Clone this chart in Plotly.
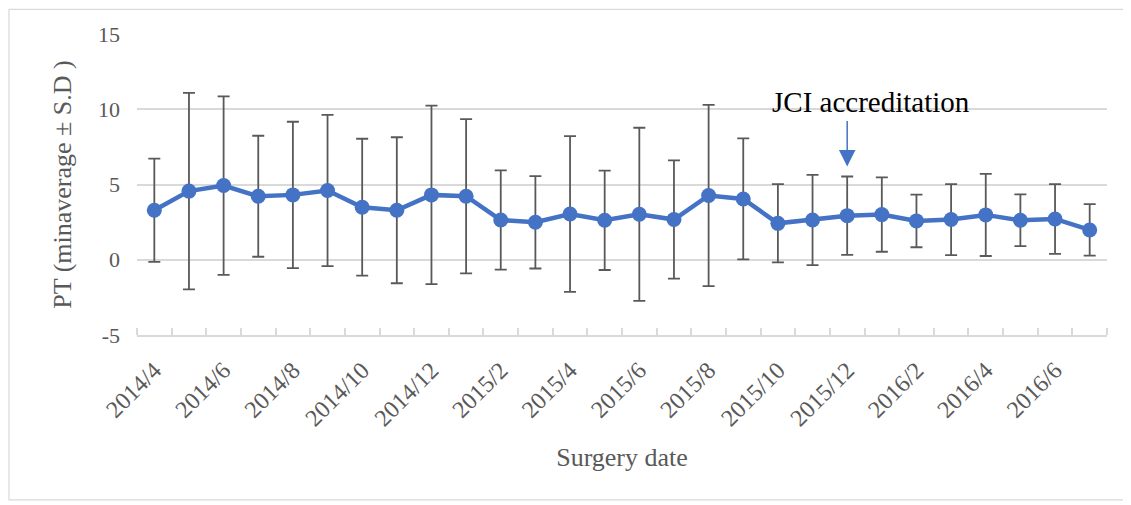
import plotly.graph_objects as go

months = ["2014/4", "2014/5", "2014/6", "2014/7", "2014/8", "2014/9", "2014/10", "2014/11",
          "2014/12", "2015/1", "2015/2", "2015/3", "2015/4", "2015/5", "2015/6", "2015/7",
          "2015/8", "2015/9", "2015/10", "2015/11", "2015/12", "2016/1", "2016/2", "2016/3",
          "2016/4", "2016/5", "2016/6", "2016/7"]
means = [3.29, 4.56, 4.93, 4.22, 4.31, 4.60, 3.49, 3.29, 4.31, 4.22, 2.64, 2.49, 3.04, 2.62,
         3.02, 2.67, 4.27, 4.04, 2.42, 2.64, 2.93, 3.00, 2.58, 2.67, 2.98, 2.62, 2.71, 1.98]
sds = [3.43, 6.53, 5.93, 4.02, 4.86, 5.03, 4.55, 4.85, 5.93, 5.13, 3.30, 3.07, 5.17, 3.30,
       5.75, 3.93, 6.02, 4.02, 2.60, 3.00, 2.60, 2.47, 1.75, 2.36, 2.73, 1.72, 2.32, 1.71]
tick_labels = months[::2]
annot_month = "2015/12"
annot_text = "JCI accreditation"

idx = list(range(len(months)))
FONT = "Liberation Serif, Times New Roman, serif"
GRAY = "#595959"

fig = go.Figure()
fig.add_trace(go.Scatter(
    x=idx, y=means, mode="lines+markers",
    line=dict(color="#4472C4", width=4.5),
    marker=dict(color="#4472C4", size=15),
    error_y=dict(type="data", array=sds, visible=True, color=GRAY, thickness=1.8, width=6),
    showlegend=False,
))

ai = months.index(annot_month)
fig.add_annotation(x=ai, y=6.2, xref="x", yref="y", text="", showarrow=True,
                   arrowhead=2, arrowsize=2.2, arrowwidth=1.5, arrowcolor="#4472C4",
                   ax=0, ay=-47)
fig.add_annotation(x=ai + 0.7, y=10.45, xref="x", yref="y", text=annot_text, showarrow=False,
                   font=dict(family=FONT, size=29, color="black"))

fig.add_shape(type="rect", xref="paper", yref="paper", x0=-0.132, x1=1.0216, y0=-0.548, y1=1.082,
              line=dict(color="#d9d9d9", width=1.2), fillcolor="rgba(0,0,0,0)", layer="below")

fig.update_layout(
    width=1123, height=497,
    margin=dict(l=129, r=24, t=26, b=170),
    paper_bgcolor="white", plot_bgcolor="white",
    font=dict(family=FONT, color=GRAY),
    xaxis=dict(
        range=[-0.5, len(months) - 0.5],
        tickvals=idx[::2], ticktext=tick_labels, tickangle=-45,
        ticks="", showgrid=False, zeroline=False,
        showline=True, linecolor="#d9d9d9", linewidth=1.5,
        tickfont=dict(family=FONT, size=24, color=GRAY),
        ticklabelstandoff=10,
        minor=dict(ticks="inside", tick0=-0.5, dtick=1, ticklen=7, tickcolor="#d9d9d9",
                   tickwidth=1.5, showgrid=False),
        title=dict(text="Surgery date", font=dict(family=FONT, size=26, color=GRAY), standoff=18),
    ),
    yaxis=dict(
        range=[-5, 15], tickvals=[-5, 0, 5, 10, 15], ticktext=["-5", "0", "5", "10", "15"],
        showgrid=True, gridcolor="#d9d9d9", gridwidth=1.5, zeroline=False,
        tickfont=dict(family=FONT, size=22, color=GRAY), ticks="", ticklen=0,
        ticklabelstandoff=16,
        title=dict(text="PT (minaverage \u00b1 S.D )", font=dict(family=FONT, size=26, color=GRAY),
                   standoff=18),
    ),
)

fig.write_html("out.html")
